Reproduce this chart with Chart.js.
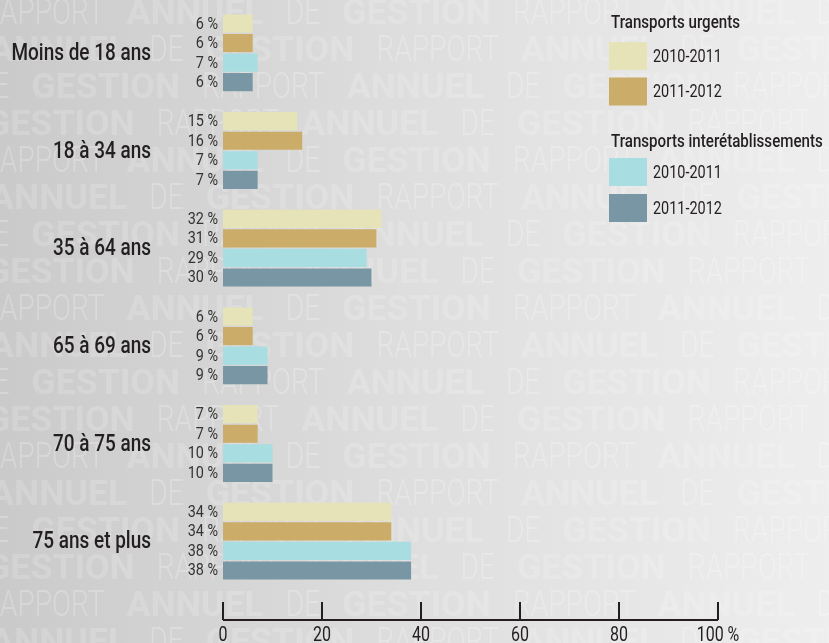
<!DOCTYPE html>
<html>
<head>
<meta charset="utf-8">
<script src="https://cdn.jsdelivr.net/npm/chart.js@4"></script>
<style>
  html, body { margin: 0; padding: 0; background: #dcdcdc; }
  #wrap { width: 829px; height: 643px; }
</style>
</head>
<body>
<div id="wrap"><canvas id="ageChart" width="829" height="643"></canvas></div>
<script>
const categories = ["Moins de 18 ans", "18 à 34 ans", "35 à 64 ans", "65 à 69 ans", "70 à 75 ans", "75 ans et plus"];
const urgents1011 = [6, 15, 32, 6, 7, 34];
const urgents1112 = [6, 16, 31, 6, 7, 34];
const inter1011 = [7, 7, 29, 9, 10, 38];
const inter1112 = [6, 7, 30, 9, 10, 38];
const seriesLabels = ["2010-2011", "2011-2012", "2010-2011", "2011-2012"];
const legendGroups = ["Transports urgents", "Transports interétablissements"];
const xTicks = [0, 20, 40, 60, 80, 100];
const watermarkWords = ["RAPPORT", "ANNUEL", "DE", "GESTION"];

const TEXT = "#231f20";
const SQUEEZE = 0.8; // fake a condensed face

// draws horizontally squeezed text (no condensed font installed)
function narrowText(ctx, txt, x, y, font, align, sx) {
  ctx.save();
  ctx.font = font;
  ctx.textAlign = align;
  ctx.translate(x, y);
  ctx.scale(sx || SQUEEZE, 1);
  ctx.fillText(txt, 0, 0);
  ctx.restore();
}

// background: grey gradient + "rapport annuel de gestion" watermark
const backdrop = {
  id: "backdrop",
  beforeDraw(chart) {
    const { ctx, width, height } = chart;
    ctx.save();
    const g = ctx.createLinearGradient(0, 0, width, 0);
    g.addColorStop(0, "#cacaca");
    g.addColorStop(0.5, "#dfdede");
    g.addColorStop(1, "#eeeeee");
    ctx.fillStyle = g;
    ctx.fillRect(0, 0, width, height);

    ctx.textBaseline = "middle";
    const shifts = [18, 10, 25, 14];
    for (let r = 0; r < 18; r++) {
      const y = 15 + r * 37;
      let i = r % 4;
      let x = -shifts[r % 4];
      while (x < width) {
        const bold = i % 2 === 1;
        ctx.fillStyle = bold ? "rgba(255,255,255,0.17)" : "rgba(255,255,255,0.24)";
        ctx.font = bold ? "700 35px Roboto" : "300 36px Roboto";
        const sx = bold ? 1.02 : 0.78;
        narrowText(ctx, watermarkWords[i], x, y, ctx.font, "left", sx);
        x += ctx.measureText(watermarkWords[i]).width * sx + 22;
        i = (i + 1) % 4;
      }
    }
    ctx.restore();
  }
};

// value labels left of each bar
const valueLabels = {
  id: "valueLabels",
  afterDatasetsDraw(chart) {
    const { ctx } = chart;
    ctx.save();
    ctx.fillStyle = "#333";
    ctx.textBaseline = "middle";
    chart.data.datasets.forEach((ds, i) => {
      chart.getDatasetMeta(i).data.forEach((bar, j) => {
        narrowText(ctx, ds.data[j] + " %", bar.base - 5, bar.y + 1, "400 16px Roboto", "right", 0.9);
      });
    });
    ctx.restore();
  }
};

// category labels, x axis line with upward ticks and its labels
const axes = {
  id: "axes",
  afterDraw(chart) {
    const { ctx, chartArea } = chart;
    const x = chart.scales.x;
    const yScale = chart.scales.y;
    ctx.save();
    ctx.fillStyle = TEXT;
    ctx.textBaseline = "middle";
    yScale.ticks.forEach((t, i) => {
      narrowText(ctx, yScale.getLabelForValue(t.value), 151, yScale.getPixelForTick(i) + 1, "500 24px Roboto", "right", 0.79);
    });

    const y = chartArea.bottom + 30;
    ctx.strokeStyle = TEXT;
    ctx.lineWidth = 2;
    ctx.beginPath();
    ctx.moveTo(x.getPixelForValue(0), y);
    ctx.lineTo(x.getPixelForValue(100), y);
    x.ticks.forEach(t => {
      const px = Math.round(x.getPixelForValue(t.value));
      ctx.moveTo(px, y);
      ctx.lineTo(px, y - 18);
    });
    ctx.stroke();
    x.ticks.forEach(t => {
      const px = x.getPixelForValue(t.value);
      const lbl = t.value === 100 ? "100 %" : String(t.value);
      narrowText(ctx, lbl, px, y + 16, "400 20px Roboto", "center");
    });
    ctx.restore();
  }
};

// grouped legend on the right
const groupedLegend = {
  id: "groupedLegend",
  afterDraw(chart) {
    const { ctx } = chart;
    const ds = chart.data.datasets;
    const boxes = [42, 77.5, 158, 194];
    const titles = [28, 147];
    ctx.save();
    ctx.fillStyle = TEXT;
    ctx.textBaseline = "alphabetic";
    legendGroups.forEach((t, i) => narrowText(ctx, t, 611, titles[i], "500 18px Roboto", "left", 0.84));
    ctx.textBaseline = "middle";
    ds.forEach((d, i) => {
      ctx.fillStyle = d.backgroundColor;
      ctx.fillRect(609, boxes[i], 38, 28);
      ctx.fillStyle = TEXT;
      narrowText(ctx, d.label, 653, boxes[i] + 15, "400 19px Roboto", "left", 0.76);
    });
    ctx.restore();
  }
};

const colors = ["#e6e3b9", "#cbad69", "#a8dde1", "#7896a4"];
const series = [urgents1011, urgents1112, inter1011, inter1112];

new Chart(document.getElementById("ageChart").getContext("2d"), {
  type: "bar",
  data: {
    labels: categories,
    datasets: series.map((s, i) => ({
      label: seriesLabels[i],
      data: s,
      backgroundColor: colors[i],
      borderWidth: 0,
      categoryPercentage: 0.8,
      barPercentage: 0.93
    }))
  },
  options: {
    indexAxis: "y",
    responsive: false,
    animation: false,
    layout: { padding: { top: 4, right: 111, left: 0, bottom: 0 } },
    plugins: { legend: { display: false }, tooltip: { enabled: false } },
    scales: {
      y: {
        grid: { display: false, drawTicks: false },
        border: { display: false },
        ticks: { display: false },
        afterFit(scale) {
          scale.width = 223;
          scale.paddingTop = 0;
          scale.paddingBottom = 0;
        }
      },
      x: {
        min: 0,
        max: 100,
        afterBuildTicks(scale) { scale.ticks = xTicks.map(v => ({ value: v })); },
        grid: { display: false, drawTicks: false },
        border: { display: false },
        ticks: { display: false },
        afterFit(scale) {
          scale.height = 53;
          scale.paddingLeft = 0;
          scale.paddingRight = 0;
        }
      }
    }
  },
  plugins: [backdrop, valueLabels, axes, groupedLegend]
});
</script>
</body>
</html>
